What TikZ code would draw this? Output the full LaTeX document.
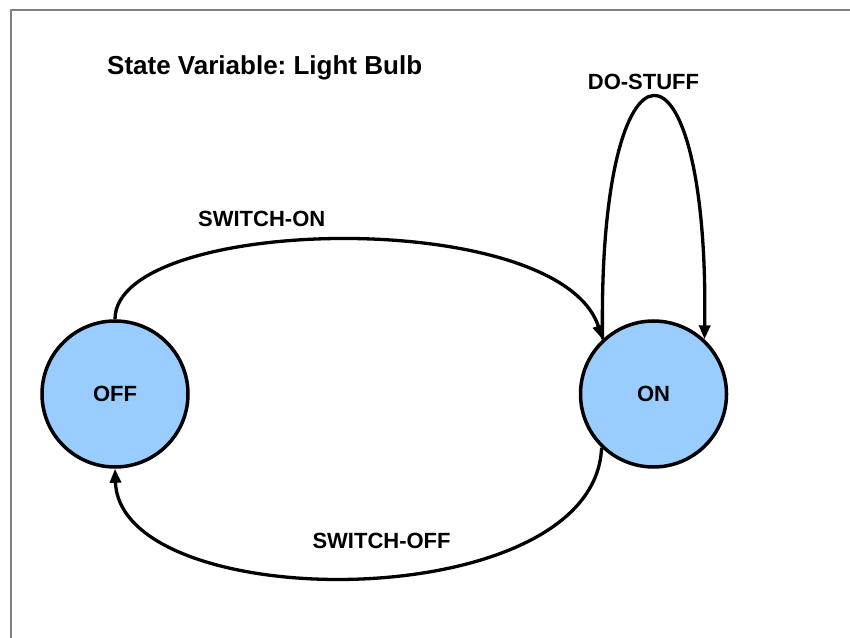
\documentclass[tikz,border=0pt]{standalone}
\usepackage{fontspec}
\setmainfont{Liberation Sans}
\usetikzlibrary{arrows.meta,positioning}
\definecolor{bulbblue}{HTML}{99CCFF}
\frenchspacing

\begin{document}
\begin{tikzpicture}[
  x=1pt, y=1pt,
  font=\fontsize{22}{26}\selectfont\bfseries,
  >={Triangle[length=14pt, width=11pt]},
  state/.style={circle, draw=black, line width=3.5pt, fill=bulbblue,
                minimum size=146pt, inner sep=0},
  tr/.style={->, line width=3.3pt, draw=black},
  trlbl/.style={inner sep=2pt},
  ttl/.style={font=\fontsize{26}{30}\selectfont\bfseries, inner sep=0},
]
\useasboundingbox (0,0) rectangle (850,637);
\draw[black!50, line width=2.5pt] (11,-5) -- (11,627) -- (855,627);

\node[ttl, anchor=base west] (title) at (107,562) {State Variable: Light Bulb};

\node[state] (off) at (115,243) {OFF};
\node[state, right=389pt of off] (on) {ON};

\draw[tr] (off.north) .. controls +(0,104) and +(-43,134) .. (on.133)
  node[trlbl, pos=0.37, above=15pt, xshift=7pt] {SWITCH-ON};
\draw[tr] (on.133) .. controls +(-5,323) and +(5,323) .. (on.47)
  node[trlbl, pos=0.5, above=4pt, xshift=-10pt] {DO-STUFF};
\draw[tr] (on.226) .. controls +(-7,-170) and +(5,-148) .. (off.south)
  node[trlbl, pos=0.5, above=25pt, xshift=24pt] {SWITCH-OFF};

\end{tikzpicture}
\end{document}
